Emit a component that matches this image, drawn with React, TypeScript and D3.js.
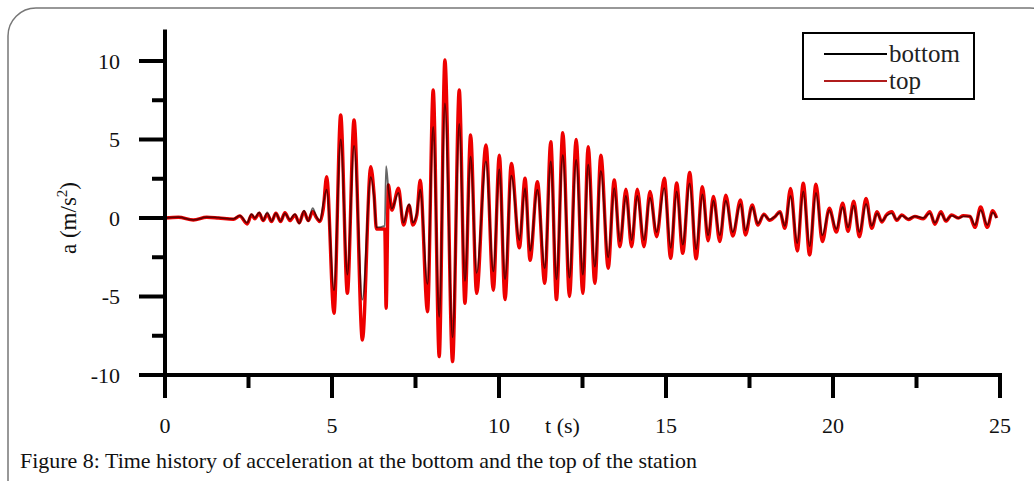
import React from "react";
import * as d3 from "d3";

// time stamps (s) of the read-off extrema
const times = [
  0, 0.4, 0.85, 1.25, 1.6, 2.05, 2.24, 2.46, 2.59, 2.69, 2.82, 2.94, 3.06, 3.19, 3.32, 3.46, 3.59, 3.74, 3.89, 4.02,
  4.16, 4.29, 4.42, 4.54, 4.64, 4.74, 4.84, 5.06, 5.26, 5.46, 5.66, 5.91, 6.16, 6.26, 6.33, 6.58, 6.62, 6.69, 6.79, 6.99,
  7.14, 7.31, 7.42, 7.54, 7.64, 7.86, 8.03, 8.21, 8.38, 8.61, 8.81, 8.98, 9.15, 9.33, 9.61, 9.83, 10.01, 10.18, 10.37, 10.61,
  10.78, 10.93, 11.15, 11.37, 11.55, 11.72, 11.91, 12.11, 12.31, 12.51, 12.67, 12.87, 13.05, 13.27, 13.45, 13.62, 13.8, 13.97, 14.14, 14.34,
  14.52, 14.72, 14.95, 15.14, 15.32, 15.5, 15.71, 15.9, 16.09, 16.26, 16.42, 16.61, 16.79, 17.0, 17.23, 17.38, 17.58, 17.75, 17.93, 18.1,
  18.27, 18.41, 18.56, 18.73, 18.93, 19.11, 19.3, 19.49, 19.68, 19.89, 20.1, 20.29, 20.45, 20.62, 20.79, 20.99, 21.16, 21.32, 21.46, 21.6,
  21.76, 21.91, 22.06, 22.25, 22.45, 22.7, 22.9, 23.05, 23.23, 23.38, 23.55, 23.75, 23.9, 24.1, 24.25, 24.42, 24.62, 24.78, 24.9,
];

// acceleration at the top of the station (m/s^2)
const topAcc = [
  0, 0.05, -0.13, 0.05, 0.0, -0.08, 0.13, -0.38, 0.19, -0.05, 0.3, -0.17, 0.25, -0.23, 0.3, -0.23, 0.34, -0.17, 0.19, -0.3,
  0.4, -0.17, 0.4, 0, -0.23, 0.6, 2.63, -6.07, 6.56, -4.8, 6.24, -7.77, 3.27, 1.5, -0.7, -0.7, -5.75, 2.1, 0.5, 1.9,
  -0.45, 0.8, -0.45, 0.2, 2.4, -5.97, 8.15, -8.83, 10.06, -9.15, 8.15, -5.43, 5.29, -4.8, 4.65, -4.6, 4.0, -5.2, 3.48, -1.9,
  2.53, -2.7, 2.31, -4.16, 4.86, -5.2, 5.43, -5.0, 5.0, -4.8, 4.54, -4.16, 4.0, -3.2, 2.42, -1.83, 1.83, -1.83, 1.83, -1.83,
  1.69, -1.19, 2.53, -2.57, 2.23, -2.25, 2.9, -2.6, 2.0, -1.45, 1.38, -1.5, 1.46, -1.15, 1.15, -1.08, 0.83, -0.45, 0.25, -0.15,
  0.1, 0.4, -0.66, 1.89, -2.1, 2.21, -2.36, 2.15, -1.5, 0.62, -0.9, 0.95, -0.85, 1.07, -1.2, 1.25, -0.66, 0.4, -0.25, 0.2,
  0.4, -0.15, 0.2, -0.1, 0.1, -0.05, 0.4, -0.4, 0.4, -0.2, 0.2, 0, 0.15, 0.1, -0.6, 0.7, -0.6, 0.46, 0,
];

// acceleration at the bottom of the station (m/s^2)
const bottomAcc = [
  0, 0.05, -0.12, 0.05, 0.02, -0.06, 0.15, -0.3, 0.25, 0, 0.35, -0.15, 0.35, -0.2, 0.3, -0.2, 0.3, -0.1, 0.25, -0.35,
  0.47, -0.2, 0.62, 0.05, -0.2, 0.93, 1.8, -4.6, 5.0, -3.6, 4.6, -5.2, 2.6, 1.3, -0.6, -0.5, 3.3, 1.8, 0.6, 1.6,
  -0.3, 0.9, -0.3, 0.3, 1.8, -4.2, 5.8, -6.3, 7.3, -7.6, 6.0, -4.0, 3.9, -3.5, 3.6, -3.4, 3.1, -3.9, 2.7, -1.4,
  1.9, -2.1, 1.8, -3.2, 3.6, -3.9, 4.0, -3.8, 3.7, -3.6, 3.4, -3.1, 3.0, -2.5, 1.9, -1.5, 1.4, -1.4, 1.4, -1.4,
  1.3, -0.9, 1.9, -1.9, 1.7, -1.7, 2.2, -2.0, 1.5, -1.1, 1.1, -1.1, 1.1, -0.9, 0.9, -0.8, 0.7, -0.35, 0.2, -0.1,
  0.1, 0.35, -0.5, 1.4, -1.6, 1.7, -1.8, 1.6, -1.1, 0.5, -0.7, 0.7, -0.6, 0.8, -0.9, 0.9, -0.5, 0.3, -0.2, 0.15,
  0.3, -0.1, 0.15, -0.05, 0.1, 0, 0.3, -0.3, 0.3, -0.15, 0.15, 0, 0.1, 0.1, -0.45, 0.5, -0.45, 0.35, 0,
];

const xMajorTicks = [0, 5, 10, 15, 20, 25];
const xMinorTicks = [2.5, 7.5, 12.5, 17.5, 22.5];
const yMajorTicks = [-10, -5, 0, 5, 10];
const yMinorTicks = [-7.5, -2.5, 2.5, 7.5];
const seriesNames = ["bottom", "top"];

const FONT = "'Liberation Serif', 'Times New Roman', serif";

export default function App() {
  const x = d3.scaleLinear().domain([0, 25]).range([165, 1000]);
  const y = d3.scaleLinear().domain([-10, 10]).range([375, 61]);

  const topData = times.map((t, i) => [t, topAcc[i]] as [number, number]);
  const bottomData = times.map((t, i) => [t, bottomAcc[i]] as [number, number]);

  const line = d3
    .line<[number, number]>()
    .x((d) => x(d[0]))
    .y((d) => y(d[1]))
    .curve(d3.curveMonotoneX);

  const x0 = x(0);
  const yBase = y(-10);

  return (
    <svg
      width={1034}
      height={481}
      style={{ position: "absolute", left: 0, top: 0, background: "#fff" }}
    >
      {/* outer rounded frame */}
      <rect x={8} y={8} width={1050} height={520} rx={28} ry={28} fill="none" stroke="#777" strokeWidth={1.5} />

      {/* data */}
      <path d={line(topData) || ""} fill="none" stroke="#ee0000" strokeWidth={3.4} strokeLinejoin="round" />
      <path d={line(bottomData) || ""} fill="none" stroke="#000" strokeOpacity={0.6} strokeWidth={1.8} strokeLinejoin="round" />

      {/* axes */}
      <line x1={x0} x2={x0} y1={y(12)} y2={yBase + 2} stroke="#000" strokeWidth={4} />
      <line x1={139} x2={x(25) + 2} y1={yBase} y2={yBase} stroke="#000" strokeWidth={4} />

      {yMajorTicks.map((v) => (
        <g key={"ym" + v}>
          <line x1={139} x2={x0} y1={y(v)} y2={y(v)} stroke="#000" strokeWidth={4} />
          <text x={120} y={y(v)} dy="0.35em" textAnchor="end" fontFamily={FONT} fontSize={22} fill="#111">
            {v}
          </text>
        </g>
      ))}
      {yMinorTicks.map((v) => (
        <line key={"yn" + v} x1={152} x2={x0} y1={y(v)} y2={y(v)} stroke="#000" strokeWidth={4} />
      ))}
      {xMajorTicks.map((v) => (
        <g key={"xm" + v}>
          <line x1={x(v)} x2={x(v)} y1={yBase} y2={398} stroke="#000" strokeWidth={4} />
          <text x={x(v)} y={433} textAnchor="middle" fontFamily={FONT} fontSize={22} fill="#111">
            {v}
          </text>
        </g>
      ))}
      {xMinorTicks.map((v) => (
        <line key={"xn" + v} x1={x(v)} x2={x(v)} y1={yBase} y2={388} stroke="#000" strokeWidth={4} />
      ))}

      {/* axis titles */}
      <text x={x(11.9)} y={433} textAnchor="middle" fontFamily={FONT} fontSize={22} fill="#111">
        t (s)
      </text>
      <text
        transform={`translate(76, ${y(0)}) rotate(-90)`}
        textAnchor="middle"
        fontFamily={FONT}
        fontSize={23}
        fill="#111"
      >
        a (m/s<tspan dy={-9} fontSize={15}>2</tspan>
        <tspan dy={9}>)</tspan>
      </text>

      {/* legend */}
      <rect x={803} y={33} width={171} height={66} fill="#fff" stroke="#000" strokeWidth={2} />
      <line x1={824} x2={887} y1={54} y2={54} stroke="#000" strokeWidth={2} />
      <line x1={824} x2={887} y1={81} y2={81} stroke="#b01c1c" strokeWidth={2} />
      <text x={889} y={62} fontFamily={FONT} fontSize={25} fill="#222">
        {seriesNames[0]}
      </text>
      <text x={889} y={89} fontFamily={FONT} fontSize={25} fill="#222">
        {seriesNames[1]}
      </text>

      {/* caption */}
      <text x={20} y={468} fontFamily={FONT} fontSize={21} fill="#111" textLength={677} lengthAdjust="spacingAndGlyphs">
        Figure 8: Time history of acceleration at the bottom and the top of the station
      </text>
    </svg>
  );
}
